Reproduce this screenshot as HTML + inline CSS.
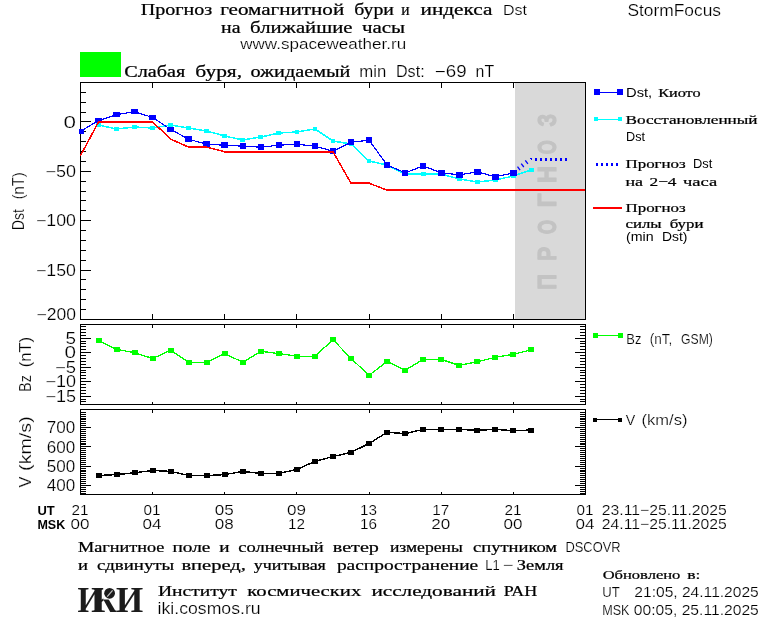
<!DOCTYPE html>
<html lang="ru"><head><meta charset="utf-8"><title>StormFocus</title>
<style>
html,body{margin:0;padding:0;background:#fff;}
body{width:760px;height:620px;overflow:hidden;}
svg{display:block;will-change:transform;}
.s{font-family:"Liberation Sans", sans-serif;font-size:15.6px;fill:#000;stroke:#fff;stroke-width:0.2px;}
.s2{font-family:"Liberation Sans", sans-serif;font-size:14.5px;fill:#000;stroke:#fff;stroke-width:0.2px;}
.sa{font-family:"Liberation Sans", sans-serif;font-size:16px;fill:#000;stroke:#fff;stroke-width:0.2px;}
.sb{font-family:"Liberation Sans", sans-serif;font-size:13px;font-weight:bold;fill:#000;}
.sl{font-family:"Liberation Sans", sans-serif;font-size:12.5px;fill:#000;}
.c{font-family:"Liberation Serif", serif;font-size:16px;fill:#000;stroke:#000;stroke-width:0.24px;}
.c2{font-family:"Liberation Serif", serif;font-size:14.7px;fill:#000;stroke:#000;stroke-width:0.24px;}
.cl{font-family:"Liberation Serif", serif;font-size:13.2px;fill:#000;stroke:#000;stroke-width:0.24px;}
.pg{font-family:"Liberation Sans", sans-serif;font-size:26.6px;font-weight:bold;fill:#c3c3c3;stroke:#c3c3c3;stroke-width:1.2px;stroke-linejoin:round;}
.iki{font-family:"Liberation Serif", serif;font-size:35px;font-weight:bold;fill:#1c1c1c;}
</style></head><body>
<svg width="760" height="620" viewBox="0 0 760 620">
<rect x="0" y="0" width="760" height="620" fill="#fff"/>
<text x="140.8" y="15.3" class="c" textLength="71.4" lengthAdjust="spacingAndGlyphs" >Прогноз</text>
<text x="220.2" y="15.3" class="c" textLength="124.0" lengthAdjust="spacingAndGlyphs" >геомагнитной</text>
<text x="354.2" y="15.3" class="c" textLength="39.7" lengthAdjust="spacingAndGlyphs" >бури</text>
<text x="401.2" y="15.3" class="c" textLength="8.3" lengthAdjust="spacingAndGlyphs" >и</text>
<text x="420.5" y="15.3" class="c" textLength="72.0" lengthAdjust="spacingAndGlyphs" >индекса</text>
<text x="503.0" y="15.3" class="s" textLength="24.0" lengthAdjust="spacingAndGlyphs"  style="font-size:14.7px">Dst</text>
<text x="221.1" y="32.8" class="c" textLength="19.4" lengthAdjust="spacingAndGlyphs" >на</text>
<text x="250.1" y="32.8" class="c" textLength="102.4" lengthAdjust="spacingAndGlyphs" >ближайшие</text>
<text x="362.0" y="32.8" class="c" textLength="43.1" lengthAdjust="spacingAndGlyphs" >часы</text>
<text x="240.2" y="49.3" class="s" textLength="166.0" lengthAdjust="spacingAndGlyphs"  style="font-size:14.8px">www.spaceweather.ru</text>
<text x="627.4" y="15.7" class="s" textLength="93.6" lengthAdjust="spacingAndGlyphs"  style="font-size:16px">StormFocus</text>
<rect x="80.00" y="52.00" width="41.00" height="25.00" fill="#00ff00"/>
<text x="124.2" y="76.5" class="c" textLength="61.0" lengthAdjust="spacingAndGlyphs" >Слабая</text>
<text x="195.3" y="76.5" class="c" textLength="46.8" lengthAdjust="spacingAndGlyphs" >буря,</text>
<text x="250.5" y="76.5" class="c" textLength="99.9" lengthAdjust="spacingAndGlyphs" >ожидаемый</text>
<text x="359.3" y="76.7" class="s" textLength="27.0" lengthAdjust="spacingAndGlyphs"  style="font-size:16.4px">min</text>
<text x="396.0" y="76.7" class="s" textLength="28.6" lengthAdjust="spacingAndGlyphs"  style="font-size:16.4px">Dst:</text>
<text x="434.8" y="76.7" class="s" textLength="31.8" lengthAdjust="spacingAndGlyphs"  style="font-size:16.4px">−69</text>
<text x="475.6" y="76.7" class="s" textLength="18.6" lengthAdjust="spacingAndGlyphs"  style="font-size:16.4px">nT</text>
<rect x="515.00" y="83.00" width="70.00" height="236.00" fill="#d9d9d9"/>
<text class="pg" transform="translate(556.4,289.86) rotate(-90)" textLength="15.73" lengthAdjust="spacingAndGlyphs">П</text>
<text class="pg" transform="translate(556.4,260.79) rotate(-90)" textLength="13.91" lengthAdjust="spacingAndGlyphs">Р</text>
<text class="pg" transform="translate(556.4,234.36) rotate(-90)" textLength="14.33" lengthAdjust="spacingAndGlyphs">О</text>
<text class="pg" transform="translate(556.4,207.34) rotate(-90)" textLength="13.92" lengthAdjust="spacingAndGlyphs">Г</text>
<text class="pg" transform="translate(556.4,182.97) rotate(-90)" textLength="16.95" lengthAdjust="spacingAndGlyphs">Н</text>
<text class="pg" transform="translate(556.4,154.14) rotate(-90)" textLength="13.99" lengthAdjust="spacingAndGlyphs">О</text>
<text class="pg" transform="translate(556.4,126.45) rotate(-90)" textLength="12.57" lengthAdjust="spacingAndGlyphs">З</text>
<g shape-rendering="crispEdges">
<rect x="80.5" y="82.5" width="505.0" height="237.0" fill="none" stroke="#000" stroke-width="1"/>
<line x1="152.64" y1="82.50" x2="152.64" y2="88.00" stroke="#000" stroke-width="1" />
<line x1="152.64" y1="319.50" x2="152.64" y2="314.00" stroke="#000" stroke-width="1" />
<line x1="224.79" y1="82.50" x2="224.79" y2="88.00" stroke="#000" stroke-width="1" />
<line x1="224.79" y1="319.50" x2="224.79" y2="314.00" stroke="#000" stroke-width="1" />
<line x1="296.93" y1="82.50" x2="296.93" y2="88.00" stroke="#000" stroke-width="1" />
<line x1="296.93" y1="319.50" x2="296.93" y2="314.00" stroke="#000" stroke-width="1" />
<line x1="369.07" y1="82.50" x2="369.07" y2="88.00" stroke="#000" stroke-width="1" />
<line x1="369.07" y1="319.50" x2="369.07" y2="314.00" stroke="#000" stroke-width="1" />
<line x1="441.21" y1="82.50" x2="441.21" y2="88.00" stroke="#000" stroke-width="1" />
<line x1="441.21" y1="319.50" x2="441.21" y2="314.00" stroke="#000" stroke-width="1" />
<line x1="513.36" y1="82.50" x2="513.36" y2="88.00" stroke="#000" stroke-width="1" />
<line x1="513.36" y1="319.50" x2="513.36" y2="314.00" stroke="#000" stroke-width="1" />
<line x1="80.50" y1="309.50" x2="86.00" y2="309.50" stroke="#000" stroke-width="1" />
<line x1="80.50" y1="299.50" x2="86.00" y2="299.50" stroke="#000" stroke-width="1" />
<line x1="80.50" y1="289.50" x2="86.00" y2="289.50" stroke="#000" stroke-width="1" />
<line x1="80.50" y1="279.50" x2="86.00" y2="279.50" stroke="#000" stroke-width="1" />
<line x1="80.50" y1="270.50" x2="91.00" y2="270.50" stroke="#000" stroke-width="1" />
<line x1="80.50" y1="260.50" x2="86.00" y2="260.50" stroke="#000" stroke-width="1" />
<line x1="80.50" y1="250.50" x2="86.00" y2="250.50" stroke="#000" stroke-width="1" />
<line x1="80.50" y1="240.50" x2="86.00" y2="240.50" stroke="#000" stroke-width="1" />
<line x1="80.50" y1="230.50" x2="86.00" y2="230.50" stroke="#000" stroke-width="1" />
<line x1="80.50" y1="220.50" x2="91.00" y2="220.50" stroke="#000" stroke-width="1" />
<line x1="80.50" y1="210.50" x2="86.00" y2="210.50" stroke="#000" stroke-width="1" />
<line x1="80.50" y1="200.50" x2="86.00" y2="200.50" stroke="#000" stroke-width="1" />
<line x1="80.50" y1="191.50" x2="86.00" y2="191.50" stroke="#000" stroke-width="1" />
<line x1="80.50" y1="181.50" x2="86.00" y2="181.50" stroke="#000" stroke-width="1" />
<line x1="80.50" y1="171.50" x2="91.00" y2="171.50" stroke="#000" stroke-width="1" />
<line x1="80.50" y1="161.50" x2="86.00" y2="161.50" stroke="#000" stroke-width="1" />
<line x1="80.50" y1="151.50" x2="86.00" y2="151.50" stroke="#000" stroke-width="1" />
<line x1="80.50" y1="141.50" x2="86.00" y2="141.50" stroke="#000" stroke-width="1" />
<line x1="80.50" y1="131.50" x2="86.00" y2="131.50" stroke="#000" stroke-width="1" />
<line x1="80.50" y1="121.50" x2="91.00" y2="121.50" stroke="#000" stroke-width="1" />
<line x1="80.50" y1="112.50" x2="86.00" y2="112.50" stroke="#000" stroke-width="1" />
<line x1="80.50" y1="102.50" x2="86.00" y2="102.50" stroke="#000" stroke-width="1" />
<line x1="80.50" y1="92.50" x2="86.00" y2="92.50" stroke="#000" stroke-width="1" />
<clipPath id="cp1"><rect x="79" y="82" width="506" height="238"/></clipPath>
<g clip-path="url(#cp1)">
<polyline points="98.54,125.00 116.57,129.00 134.61,127.00 152.64,128.00 170.68,125.00 188.71,128.00 206.75,131.00 224.79,136.00 242.82,140.00 260.86,137.00 278.89,133.00 296.93,132.00 314.96,129.00 333.00,141.00 351.04,144.00 369.07,161.00 387.11,165.00 405.14,174.00 423.18,174.00 441.21,174.00 459.25,179.00 477.29,182.00 495.32,180.00 513.36,176.00 531.39,170.00" fill="none" stroke="#00ffff" stroke-width="1.5" stroke-linejoin="miter" />
<rect x="96.14" y="123.10" width="4.80" height="3.80" fill="#00ffff"/>
<rect x="114.17" y="127.10" width="4.80" height="3.80" fill="#00ffff"/>
<rect x="132.21" y="125.10" width="4.80" height="3.80" fill="#00ffff"/>
<rect x="150.24" y="126.10" width="4.80" height="3.80" fill="#00ffff"/>
<rect x="168.28" y="123.10" width="4.80" height="3.80" fill="#00ffff"/>
<rect x="186.31" y="126.10" width="4.80" height="3.80" fill="#00ffff"/>
<rect x="204.35" y="129.10" width="4.80" height="3.80" fill="#00ffff"/>
<rect x="222.39" y="134.10" width="4.80" height="3.80" fill="#00ffff"/>
<rect x="240.42" y="138.10" width="4.80" height="3.80" fill="#00ffff"/>
<rect x="258.46" y="135.10" width="4.80" height="3.80" fill="#00ffff"/>
<rect x="276.49" y="131.10" width="4.80" height="3.80" fill="#00ffff"/>
<rect x="294.53" y="130.10" width="4.80" height="3.80" fill="#00ffff"/>
<rect x="312.56" y="127.10" width="4.80" height="3.80" fill="#00ffff"/>
<rect x="330.60" y="139.10" width="4.80" height="3.80" fill="#00ffff"/>
<rect x="348.64" y="142.10" width="4.80" height="3.80" fill="#00ffff"/>
<rect x="366.67" y="159.10" width="4.80" height="3.80" fill="#00ffff"/>
<rect x="384.71" y="163.10" width="4.80" height="3.80" fill="#00ffff"/>
<rect x="402.74" y="172.10" width="4.80" height="3.80" fill="#00ffff"/>
<rect x="420.78" y="172.10" width="4.80" height="3.80" fill="#00ffff"/>
<rect x="438.81" y="172.10" width="4.80" height="3.80" fill="#00ffff"/>
<rect x="456.85" y="177.10" width="4.80" height="3.80" fill="#00ffff"/>
<rect x="474.89" y="180.10" width="4.80" height="3.80" fill="#00ffff"/>
<rect x="492.92" y="178.10" width="4.80" height="3.80" fill="#00ffff"/>
<rect x="510.96" y="174.10" width="4.80" height="3.80" fill="#00ffff"/>
<rect x="528.99" y="168.10" width="4.80" height="3.80" fill="#00ffff"/>
<polyline points="80.50,131.38 98.54,120.51 116.57,114.59 134.61,111.62 152.64,117.55 170.68,129.40 188.71,139.28 206.75,144.21 224.79,145.20 242.82,146.19 260.86,147.17 278.89,145.20 296.93,144.21 314.96,146.19 333.00,151.12 351.04,142.24 369.07,140.26 387.11,164.95 405.14,172.85 423.18,165.94 441.21,172.85 459.25,174.82 477.29,171.86 495.32,176.80 513.36,172.85" fill="none" stroke="#0000ff" stroke-width="1.2" stroke-linejoin="miter" />
<rect x="535.00" y="158.00" width="2.00" height="3.00" fill="#0000ff"/>
<rect x="540.00" y="158.00" width="2.00" height="3.00" fill="#0000ff"/>
<rect x="545.00" y="158.00" width="2.00" height="3.00" fill="#0000ff"/>
<rect x="550.00" y="158.00" width="2.00" height="3.00" fill="#0000ff"/>
<rect x="555.00" y="158.00" width="2.00" height="3.00" fill="#0000ff"/>
<rect x="560.00" y="158.00" width="2.00" height="3.00" fill="#0000ff"/>
<rect x="565.00" y="158.00" width="2.00" height="3.00" fill="#0000ff"/>
<polygon points="529.5,158 532,158 532,161" fill="#0000ff"/>
<line x1="517.50" y1="166.70" x2="520.10" y2="170.10" stroke="#0000ff" stroke-width="1.3" shape-rendering="auto"/>
<line x1="521.20" y1="163.60" x2="523.80" y2="167.00" stroke="#0000ff" stroke-width="1.3" shape-rendering="auto"/>
<line x1="525.30" y1="160.40" x2="527.90" y2="163.80" stroke="#0000ff" stroke-width="1.3" shape-rendering="auto"/>
<rect x="77.20" y="128.57" width="6.60" height="5.60" fill="#0000ff"/>
<rect x="95.24" y="117.71" width="6.60" height="5.60" fill="#0000ff"/>
<rect x="113.27" y="111.79" width="6.60" height="5.60" fill="#0000ff"/>
<rect x="131.31" y="108.83" width="6.60" height="5.60" fill="#0000ff"/>
<rect x="149.34" y="114.75" width="6.60" height="5.60" fill="#0000ff"/>
<rect x="167.38" y="126.60" width="6.60" height="5.60" fill="#0000ff"/>
<rect x="185.41" y="136.47" width="6.60" height="5.60" fill="#0000ff"/>
<rect x="203.45" y="141.41" width="6.60" height="5.60" fill="#0000ff"/>
<rect x="221.49" y="142.40" width="6.60" height="5.60" fill="#0000ff"/>
<rect x="239.52" y="143.39" width="6.60" height="5.60" fill="#0000ff"/>
<rect x="257.56" y="144.37" width="6.60" height="5.60" fill="#0000ff"/>
<rect x="275.59" y="142.40" width="6.60" height="5.60" fill="#0000ff"/>
<rect x="293.63" y="141.41" width="6.60" height="5.60" fill="#0000ff"/>
<rect x="311.66" y="143.39" width="6.60" height="5.60" fill="#0000ff"/>
<rect x="329.70" y="148.32" width="6.60" height="5.60" fill="#0000ff"/>
<rect x="347.74" y="139.44" width="6.60" height="5.60" fill="#0000ff"/>
<rect x="365.77" y="137.46" width="6.60" height="5.60" fill="#0000ff"/>
<rect x="383.81" y="162.15" width="6.60" height="5.60" fill="#0000ff"/>
<rect x="401.84" y="170.05" width="6.60" height="5.60" fill="#0000ff"/>
<rect x="419.88" y="163.14" width="6.60" height="5.60" fill="#0000ff"/>
<rect x="437.91" y="170.05" width="6.60" height="5.60" fill="#0000ff"/>
<rect x="455.95" y="172.02" width="6.60" height="5.60" fill="#0000ff"/>
<rect x="473.99" y="169.06" width="6.60" height="5.60" fill="#0000ff"/>
<rect x="492.02" y="174.00" width="6.60" height="5.60" fill="#0000ff"/>
<rect x="510.06" y="170.05" width="6.60" height="5.60" fill="#0000ff"/>
<line x1="80.50" y1="155.57" x2="98.54" y2="122.00" stroke="#ff0000" stroke-width="1.5" />
<line x1="98.04" y1="122.00" x2="153.14" y2="122.00" stroke="#ff0000" stroke-width="2" />
<line x1="152.64" y1="122.00" x2="170.68" y2="139.08" stroke="#ff0000" stroke-width="1.5" />
<line x1="170.68" y1="139.08" x2="188.71" y2="147.18" stroke="#ff0000" stroke-width="1.5" />
<line x1="188.21" y1="147.18" x2="207.25" y2="147.18" stroke="#ff0000" stroke-width="2" />
<line x1="206.75" y1="147.18" x2="224.79" y2="151.62" stroke="#ff0000" stroke-width="1.5" />
<line x1="224.29" y1="151.62" x2="333.50" y2="151.62" stroke="#ff0000" stroke-width="2" />
<line x1="333.00" y1="151.62" x2="351.04" y2="183.22" stroke="#ff0000" stroke-width="1.5" />
<line x1="350.54" y1="183.22" x2="369.57" y2="183.22" stroke="#ff0000" stroke-width="2" />
<line x1="369.07" y1="183.22" x2="387.11" y2="190.14" stroke="#ff0000" stroke-width="1.5" />
<line x1="386.61" y1="190.14" x2="585.50" y2="190.14" stroke="#ff0000" stroke-width="2" />
</g>
<polyline points="98.54,340.60 116.57,349.30 134.61,352.70 152.64,358.50 170.68,350.20 188.71,362.30 206.75,362.30 224.79,353.60 242.82,362.30 260.86,351.30 278.89,353.60 296.93,356.20 314.96,356.20 333.00,339.70 351.04,358.50 369.07,375.30 387.11,361.40 405.14,370.30 423.18,359.40 441.21,359.40 459.25,365.40 477.29,361.80 495.32,357.40 513.36,354.20 531.39,349.80" fill="none" stroke="#00ff00" stroke-width="1.3" stroke-linejoin="miter" />
<rect x="96.00" y="338.00" width="5.60" height="5.00" fill="#00ff00"/>
<rect x="114.00" y="347.00" width="5.60" height="5.00" fill="#00ff00"/>
<rect x="132.00" y="350.00" width="5.60" height="5.00" fill="#00ff00"/>
<rect x="150.00" y="356.00" width="5.60" height="5.00" fill="#00ff00"/>
<rect x="168.00" y="348.00" width="5.60" height="5.00" fill="#00ff00"/>
<rect x="186.00" y="360.00" width="5.60" height="5.00" fill="#00ff00"/>
<rect x="204.00" y="360.00" width="5.60" height="5.00" fill="#00ff00"/>
<rect x="222.00" y="351.00" width="5.60" height="5.00" fill="#00ff00"/>
<rect x="240.00" y="360.00" width="5.60" height="5.00" fill="#00ff00"/>
<rect x="258.00" y="349.00" width="5.60" height="5.00" fill="#00ff00"/>
<rect x="276.00" y="351.00" width="5.60" height="5.00" fill="#00ff00"/>
<rect x="294.00" y="354.00" width="5.60" height="5.00" fill="#00ff00"/>
<rect x="312.00" y="354.00" width="5.60" height="5.00" fill="#00ff00"/>
<rect x="330.00" y="337.00" width="5.60" height="5.00" fill="#00ff00"/>
<rect x="348.00" y="356.00" width="5.60" height="5.00" fill="#00ff00"/>
<rect x="366.00" y="373.00" width="5.60" height="5.00" fill="#00ff00"/>
<rect x="384.00" y="359.00" width="5.60" height="5.00" fill="#00ff00"/>
<rect x="402.00" y="368.00" width="5.60" height="5.00" fill="#00ff00"/>
<rect x="420.00" y="357.00" width="5.60" height="5.00" fill="#00ff00"/>
<rect x="438.00" y="357.00" width="5.60" height="5.00" fill="#00ff00"/>
<rect x="456.00" y="363.00" width="5.60" height="5.00" fill="#00ff00"/>
<rect x="474.00" y="359.00" width="5.60" height="5.00" fill="#00ff00"/>
<rect x="492.00" y="355.00" width="5.60" height="5.00" fill="#00ff00"/>
<rect x="510.00" y="352.00" width="5.60" height="5.00" fill="#00ff00"/>
<rect x="528.00" y="347.00" width="5.60" height="5.00" fill="#00ff00"/>
<rect x="80.5" y="324.5" width="505.0" height="80.0" fill="none" stroke="#000" stroke-width="1"/>
<line x1="152.64" y1="324.50" x2="152.64" y2="327.50" stroke="#000" stroke-width="1" />
<line x1="152.64" y1="404.50" x2="152.64" y2="401.50" stroke="#000" stroke-width="1" />
<line x1="224.79" y1="324.50" x2="224.79" y2="327.50" stroke="#000" stroke-width="1" />
<line x1="224.79" y1="404.50" x2="224.79" y2="401.50" stroke="#000" stroke-width="1" />
<line x1="296.93" y1="324.50" x2="296.93" y2="327.50" stroke="#000" stroke-width="1" />
<line x1="296.93" y1="404.50" x2="296.93" y2="401.50" stroke="#000" stroke-width="1" />
<line x1="369.07" y1="324.50" x2="369.07" y2="327.50" stroke="#000" stroke-width="1" />
<line x1="369.07" y1="404.50" x2="369.07" y2="401.50" stroke="#000" stroke-width="1" />
<line x1="441.21" y1="324.50" x2="441.21" y2="327.50" stroke="#000" stroke-width="1" />
<line x1="441.21" y1="404.50" x2="441.21" y2="401.50" stroke="#000" stroke-width="1" />
<line x1="513.36" y1="324.50" x2="513.36" y2="327.50" stroke="#000" stroke-width="1" />
<line x1="513.36" y1="404.50" x2="513.36" y2="401.50" stroke="#000" stroke-width="1" />
<line x1="80.50" y1="401.50" x2="86.00" y2="401.50" stroke="#000" stroke-width="1" />
<line x1="585.50" y1="401.50" x2="580.00" y2="401.50" stroke="#000" stroke-width="1" />
<line x1="80.50" y1="399.50" x2="86.00" y2="399.50" stroke="#000" stroke-width="1" />
<line x1="585.50" y1="399.50" x2="580.00" y2="399.50" stroke="#000" stroke-width="1" />
<line x1="80.50" y1="396.50" x2="91.00" y2="396.50" stroke="#000" stroke-width="1" />
<line x1="585.50" y1="396.50" x2="575.00" y2="396.50" stroke="#000" stroke-width="1" />
<line x1="80.50" y1="393.50" x2="86.00" y2="393.50" stroke="#000" stroke-width="1" />
<line x1="585.50" y1="393.50" x2="580.00" y2="393.50" stroke="#000" stroke-width="1" />
<line x1="80.50" y1="390.50" x2="86.00" y2="390.50" stroke="#000" stroke-width="1" />
<line x1="585.50" y1="390.50" x2="580.00" y2="390.50" stroke="#000" stroke-width="1" />
<line x1="80.50" y1="387.50" x2="86.00" y2="387.50" stroke="#000" stroke-width="1" />
<line x1="585.50" y1="387.50" x2="580.00" y2="387.50" stroke="#000" stroke-width="1" />
<line x1="80.50" y1="384.50" x2="86.00" y2="384.50" stroke="#000" stroke-width="1" />
<line x1="585.50" y1="384.50" x2="580.00" y2="384.50" stroke="#000" stroke-width="1" />
<line x1="80.50" y1="381.50" x2="91.00" y2="381.50" stroke="#000" stroke-width="1" />
<line x1="585.50" y1="381.50" x2="575.00" y2="381.50" stroke="#000" stroke-width="1" />
<line x1="80.50" y1="378.50" x2="86.00" y2="378.50" stroke="#000" stroke-width="1" />
<line x1="585.50" y1="378.50" x2="580.00" y2="378.50" stroke="#000" stroke-width="1" />
<line x1="80.50" y1="375.50" x2="86.00" y2="375.50" stroke="#000" stroke-width="1" />
<line x1="585.50" y1="375.50" x2="580.00" y2="375.50" stroke="#000" stroke-width="1" />
<line x1="80.50" y1="372.50" x2="86.00" y2="372.50" stroke="#000" stroke-width="1" />
<line x1="585.50" y1="372.50" x2="580.00" y2="372.50" stroke="#000" stroke-width="1" />
<line x1="80.50" y1="370.50" x2="86.00" y2="370.50" stroke="#000" stroke-width="1" />
<line x1="585.50" y1="370.50" x2="580.00" y2="370.50" stroke="#000" stroke-width="1" />
<line x1="80.50" y1="367.50" x2="91.00" y2="367.50" stroke="#000" stroke-width="1" />
<line x1="585.50" y1="367.50" x2="575.00" y2="367.50" stroke="#000" stroke-width="1" />
<line x1="80.50" y1="364.50" x2="86.00" y2="364.50" stroke="#000" stroke-width="1" />
<line x1="585.50" y1="364.50" x2="580.00" y2="364.50" stroke="#000" stroke-width="1" />
<line x1="80.50" y1="361.50" x2="86.00" y2="361.50" stroke="#000" stroke-width="1" />
<line x1="585.50" y1="361.50" x2="580.00" y2="361.50" stroke="#000" stroke-width="1" />
<line x1="80.50" y1="358.50" x2="86.00" y2="358.50" stroke="#000" stroke-width="1" />
<line x1="585.50" y1="358.50" x2="580.00" y2="358.50" stroke="#000" stroke-width="1" />
<line x1="80.50" y1="355.50" x2="86.00" y2="355.50" stroke="#000" stroke-width="1" />
<line x1="585.50" y1="355.50" x2="580.00" y2="355.50" stroke="#000" stroke-width="1" />
<line x1="80.50" y1="352.50" x2="91.00" y2="352.50" stroke="#000" stroke-width="1" />
<line x1="585.50" y1="352.50" x2="575.00" y2="352.50" stroke="#000" stroke-width="1" />
<line x1="80.50" y1="349.50" x2="86.00" y2="349.50" stroke="#000" stroke-width="1" />
<line x1="585.50" y1="349.50" x2="580.00" y2="349.50" stroke="#000" stroke-width="1" />
<line x1="80.50" y1="346.50" x2="86.00" y2="346.50" stroke="#000" stroke-width="1" />
<line x1="585.50" y1="346.50" x2="580.00" y2="346.50" stroke="#000" stroke-width="1" />
<line x1="80.50" y1="343.50" x2="86.00" y2="343.50" stroke="#000" stroke-width="1" />
<line x1="585.50" y1="343.50" x2="580.00" y2="343.50" stroke="#000" stroke-width="1" />
<line x1="80.50" y1="341.50" x2="86.00" y2="341.50" stroke="#000" stroke-width="1" />
<line x1="585.50" y1="341.50" x2="580.00" y2="341.50" stroke="#000" stroke-width="1" />
<line x1="80.50" y1="338.50" x2="91.00" y2="338.50" stroke="#000" stroke-width="1" />
<line x1="585.50" y1="338.50" x2="575.00" y2="338.50" stroke="#000" stroke-width="1" />
<line x1="80.50" y1="335.50" x2="86.00" y2="335.50" stroke="#000" stroke-width="1" />
<line x1="585.50" y1="335.50" x2="580.00" y2="335.50" stroke="#000" stroke-width="1" />
<line x1="80.50" y1="332.50" x2="86.00" y2="332.50" stroke="#000" stroke-width="1" />
<line x1="585.50" y1="332.50" x2="580.00" y2="332.50" stroke="#000" stroke-width="1" />
<line x1="80.50" y1="329.50" x2="86.00" y2="329.50" stroke="#000" stroke-width="1" />
<line x1="585.50" y1="329.50" x2="580.00" y2="329.50" stroke="#000" stroke-width="1" />
<line x1="80.50" y1="326.50" x2="86.00" y2="326.50" stroke="#000" stroke-width="1" />
<line x1="585.50" y1="326.50" x2="580.00" y2="326.50" stroke="#000" stroke-width="1" />
<polyline points="98.54,475.50 116.57,474.60 134.61,472.80 152.64,470.50 170.68,471.40 188.71,475.50 206.75,475.50 224.79,474.60 242.82,471.40 260.86,473.50 278.89,473.50 296.93,469.40 314.96,461.40 333.00,456.50 351.04,452.40 369.07,443.50 387.11,432.30 405.14,433.60 423.18,429.40 441.21,429.80 459.25,429.40 477.29,430.30 495.32,429.40 513.36,430.70 531.39,430.00" fill="none" stroke="#000" stroke-width="1.4" stroke-linejoin="miter" />
<rect x="96.00" y="473.00" width="5.60" height="5.00" fill="#000"/>
<rect x="114.00" y="472.00" width="5.60" height="5.00" fill="#000"/>
<rect x="132.00" y="470.00" width="5.60" height="5.00" fill="#000"/>
<rect x="150.00" y="468.00" width="5.60" height="5.00" fill="#000"/>
<rect x="168.00" y="469.00" width="5.60" height="5.00" fill="#000"/>
<rect x="186.00" y="473.00" width="5.60" height="5.00" fill="#000"/>
<rect x="204.00" y="473.00" width="5.60" height="5.00" fill="#000"/>
<rect x="222.00" y="472.00" width="5.60" height="5.00" fill="#000"/>
<rect x="240.00" y="469.00" width="5.60" height="5.00" fill="#000"/>
<rect x="258.00" y="471.00" width="5.60" height="5.00" fill="#000"/>
<rect x="276.00" y="471.00" width="5.60" height="5.00" fill="#000"/>
<rect x="294.00" y="467.00" width="5.60" height="5.00" fill="#000"/>
<rect x="312.00" y="459.00" width="5.60" height="5.00" fill="#000"/>
<rect x="330.00" y="454.00" width="5.60" height="5.00" fill="#000"/>
<rect x="348.00" y="450.00" width="5.60" height="5.00" fill="#000"/>
<rect x="366.00" y="441.00" width="5.60" height="5.00" fill="#000"/>
<rect x="384.00" y="430.00" width="5.60" height="5.00" fill="#000"/>
<rect x="402.00" y="431.00" width="5.60" height="5.00" fill="#000"/>
<rect x="420.00" y="427.00" width="5.60" height="5.00" fill="#000"/>
<rect x="438.00" y="427.00" width="5.60" height="5.00" fill="#000"/>
<rect x="456.00" y="427.00" width="5.60" height="5.00" fill="#000"/>
<rect x="474.00" y="428.00" width="5.60" height="5.00" fill="#000"/>
<rect x="492.00" y="427.00" width="5.60" height="5.00" fill="#000"/>
<rect x="510.00" y="428.00" width="5.60" height="5.00" fill="#000"/>
<rect x="528.00" y="428.00" width="5.60" height="5.00" fill="#000"/>
<rect x="80.5" y="409.5" width="505.0" height="85.0" fill="none" stroke="#000" stroke-width="1"/>
<line x1="152.64" y1="409.50" x2="152.64" y2="412.50" stroke="#000" stroke-width="1" />
<line x1="152.64" y1="494.50" x2="152.64" y2="491.50" stroke="#000" stroke-width="1" />
<line x1="224.79" y1="409.50" x2="224.79" y2="412.50" stroke="#000" stroke-width="1" />
<line x1="224.79" y1="494.50" x2="224.79" y2="491.50" stroke="#000" stroke-width="1" />
<line x1="296.93" y1="409.50" x2="296.93" y2="412.50" stroke="#000" stroke-width="1" />
<line x1="296.93" y1="494.50" x2="296.93" y2="491.50" stroke="#000" stroke-width="1" />
<line x1="369.07" y1="409.50" x2="369.07" y2="412.50" stroke="#000" stroke-width="1" />
<line x1="369.07" y1="494.50" x2="369.07" y2="491.50" stroke="#000" stroke-width="1" />
<line x1="441.21" y1="409.50" x2="441.21" y2="412.50" stroke="#000" stroke-width="1" />
<line x1="441.21" y1="494.50" x2="441.21" y2="491.50" stroke="#000" stroke-width="1" />
<line x1="513.36" y1="409.50" x2="513.36" y2="412.50" stroke="#000" stroke-width="1" />
<line x1="513.36" y1="494.50" x2="513.36" y2="491.50" stroke="#000" stroke-width="1" />
<line x1="80.50" y1="493.50" x2="86.00" y2="493.50" stroke="#000" stroke-width="1" />
<line x1="585.50" y1="493.50" x2="580.00" y2="493.50" stroke="#000" stroke-width="1" />
<line x1="80.50" y1="491.50" x2="86.00" y2="491.50" stroke="#000" stroke-width="1" />
<line x1="585.50" y1="491.50" x2="580.00" y2="491.50" stroke="#000" stroke-width="1" />
<line x1="80.50" y1="489.50" x2="86.00" y2="489.50" stroke="#000" stroke-width="1" />
<line x1="585.50" y1="489.50" x2="580.00" y2="489.50" stroke="#000" stroke-width="1" />
<line x1="80.50" y1="487.50" x2="86.00" y2="487.50" stroke="#000" stroke-width="1" />
<line x1="585.50" y1="487.50" x2="580.00" y2="487.50" stroke="#000" stroke-width="1" />
<line x1="80.50" y1="485.50" x2="91.00" y2="485.50" stroke="#000" stroke-width="1" />
<line x1="585.50" y1="485.50" x2="575.00" y2="485.50" stroke="#000" stroke-width="1" />
<line x1="80.50" y1="483.50" x2="86.00" y2="483.50" stroke="#000" stroke-width="1" />
<line x1="585.50" y1="483.50" x2="580.00" y2="483.50" stroke="#000" stroke-width="1" />
<line x1="80.50" y1="481.50" x2="86.00" y2="481.50" stroke="#000" stroke-width="1" />
<line x1="585.50" y1="481.50" x2="580.00" y2="481.50" stroke="#000" stroke-width="1" />
<line x1="80.50" y1="479.50" x2="86.00" y2="479.50" stroke="#000" stroke-width="1" />
<line x1="585.50" y1="479.50" x2="580.00" y2="479.50" stroke="#000" stroke-width="1" />
<line x1="80.50" y1="477.50" x2="86.00" y2="477.50" stroke="#000" stroke-width="1" />
<line x1="585.50" y1="477.50" x2="580.00" y2="477.50" stroke="#000" stroke-width="1" />
<line x1="80.50" y1="475.50" x2="86.00" y2="475.50" stroke="#000" stroke-width="1" />
<line x1="585.50" y1="475.50" x2="580.00" y2="475.50" stroke="#000" stroke-width="1" />
<line x1="80.50" y1="473.50" x2="86.00" y2="473.50" stroke="#000" stroke-width="1" />
<line x1="585.50" y1="473.50" x2="580.00" y2="473.50" stroke="#000" stroke-width="1" />
<line x1="80.50" y1="471.50" x2="86.00" y2="471.50" stroke="#000" stroke-width="1" />
<line x1="585.50" y1="471.50" x2="580.00" y2="471.50" stroke="#000" stroke-width="1" />
<line x1="80.50" y1="470.50" x2="86.00" y2="470.50" stroke="#000" stroke-width="1" />
<line x1="585.50" y1="470.50" x2="580.00" y2="470.50" stroke="#000" stroke-width="1" />
<line x1="80.50" y1="468.50" x2="86.00" y2="468.50" stroke="#000" stroke-width="1" />
<line x1="585.50" y1="468.50" x2="580.00" y2="468.50" stroke="#000" stroke-width="1" />
<line x1="80.50" y1="466.50" x2="91.00" y2="466.50" stroke="#000" stroke-width="1" />
<line x1="585.50" y1="466.50" x2="575.00" y2="466.50" stroke="#000" stroke-width="1" />
<line x1="80.50" y1="464.50" x2="86.00" y2="464.50" stroke="#000" stroke-width="1" />
<line x1="585.50" y1="464.50" x2="580.00" y2="464.50" stroke="#000" stroke-width="1" />
<line x1="80.50" y1="462.50" x2="86.00" y2="462.50" stroke="#000" stroke-width="1" />
<line x1="585.50" y1="462.50" x2="580.00" y2="462.50" stroke="#000" stroke-width="1" />
<line x1="80.50" y1="460.50" x2="86.00" y2="460.50" stroke="#000" stroke-width="1" />
<line x1="585.50" y1="460.50" x2="580.00" y2="460.50" stroke="#000" stroke-width="1" />
<line x1="80.50" y1="458.50" x2="86.00" y2="458.50" stroke="#000" stroke-width="1" />
<line x1="585.50" y1="458.50" x2="580.00" y2="458.50" stroke="#000" stroke-width="1" />
<line x1="80.50" y1="456.50" x2="86.00" y2="456.50" stroke="#000" stroke-width="1" />
<line x1="585.50" y1="456.50" x2="580.00" y2="456.50" stroke="#000" stroke-width="1" />
<line x1="80.50" y1="454.50" x2="86.00" y2="454.50" stroke="#000" stroke-width="1" />
<line x1="585.50" y1="454.50" x2="580.00" y2="454.50" stroke="#000" stroke-width="1" />
<line x1="80.50" y1="452.50" x2="86.00" y2="452.50" stroke="#000" stroke-width="1" />
<line x1="585.50" y1="452.50" x2="580.00" y2="452.50" stroke="#000" stroke-width="1" />
<line x1="80.50" y1="450.50" x2="86.00" y2="450.50" stroke="#000" stroke-width="1" />
<line x1="585.50" y1="450.50" x2="580.00" y2="450.50" stroke="#000" stroke-width="1" />
<line x1="80.50" y1="448.50" x2="86.00" y2="448.50" stroke="#000" stroke-width="1" />
<line x1="585.50" y1="448.50" x2="580.00" y2="448.50" stroke="#000" stroke-width="1" />
<line x1="80.50" y1="446.50" x2="91.00" y2="446.50" stroke="#000" stroke-width="1" />
<line x1="585.50" y1="446.50" x2="575.00" y2="446.50" stroke="#000" stroke-width="1" />
<line x1="80.50" y1="444.50" x2="86.00" y2="444.50" stroke="#000" stroke-width="1" />
<line x1="585.50" y1="444.50" x2="580.00" y2="444.50" stroke="#000" stroke-width="1" />
<line x1="80.50" y1="443.50" x2="86.00" y2="443.50" stroke="#000" stroke-width="1" />
<line x1="585.50" y1="443.50" x2="580.00" y2="443.50" stroke="#000" stroke-width="1" />
<line x1="80.50" y1="441.50" x2="86.00" y2="441.50" stroke="#000" stroke-width="1" />
<line x1="585.50" y1="441.50" x2="580.00" y2="441.50" stroke="#000" stroke-width="1" />
<line x1="80.50" y1="439.50" x2="86.00" y2="439.50" stroke="#000" stroke-width="1" />
<line x1="585.50" y1="439.50" x2="580.00" y2="439.50" stroke="#000" stroke-width="1" />
<line x1="80.50" y1="437.50" x2="86.00" y2="437.50" stroke="#000" stroke-width="1" />
<line x1="585.50" y1="437.50" x2="580.00" y2="437.50" stroke="#000" stroke-width="1" />
<line x1="80.50" y1="435.50" x2="86.00" y2="435.50" stroke="#000" stroke-width="1" />
<line x1="585.50" y1="435.50" x2="580.00" y2="435.50" stroke="#000" stroke-width="1" />
<line x1="80.50" y1="433.50" x2="86.00" y2="433.50" stroke="#000" stroke-width="1" />
<line x1="585.50" y1="433.50" x2="580.00" y2="433.50" stroke="#000" stroke-width="1" />
<line x1="80.50" y1="431.50" x2="86.00" y2="431.50" stroke="#000" stroke-width="1" />
<line x1="585.50" y1="431.50" x2="580.00" y2="431.50" stroke="#000" stroke-width="1" />
<line x1="80.50" y1="429.50" x2="86.00" y2="429.50" stroke="#000" stroke-width="1" />
<line x1="585.50" y1="429.50" x2="580.00" y2="429.50" stroke="#000" stroke-width="1" />
<line x1="80.50" y1="427.50" x2="91.00" y2="427.50" stroke="#000" stroke-width="1" />
<line x1="585.50" y1="427.50" x2="575.00" y2="427.50" stroke="#000" stroke-width="1" />
<line x1="80.50" y1="425.50" x2="86.00" y2="425.50" stroke="#000" stroke-width="1" />
<line x1="585.50" y1="425.50" x2="580.00" y2="425.50" stroke="#000" stroke-width="1" />
<line x1="80.50" y1="423.50" x2="86.00" y2="423.50" stroke="#000" stroke-width="1" />
<line x1="585.50" y1="423.50" x2="580.00" y2="423.50" stroke="#000" stroke-width="1" />
<line x1="80.50" y1="421.50" x2="86.00" y2="421.50" stroke="#000" stroke-width="1" />
<line x1="585.50" y1="421.50" x2="580.00" y2="421.50" stroke="#000" stroke-width="1" />
<line x1="80.50" y1="419.50" x2="86.00" y2="419.50" stroke="#000" stroke-width="1" />
<line x1="585.50" y1="419.50" x2="580.00" y2="419.50" stroke="#000" stroke-width="1" />
<line x1="80.50" y1="418.50" x2="86.00" y2="418.50" stroke="#000" stroke-width="1" />
<line x1="585.50" y1="418.50" x2="580.00" y2="418.50" stroke="#000" stroke-width="1" />
<line x1="80.50" y1="416.50" x2="86.00" y2="416.50" stroke="#000" stroke-width="1" />
<line x1="585.50" y1="416.50" x2="580.00" y2="416.50" stroke="#000" stroke-width="1" />
<line x1="80.50" y1="414.50" x2="86.00" y2="414.50" stroke="#000" stroke-width="1" />
<line x1="585.50" y1="414.50" x2="580.00" y2="414.50" stroke="#000" stroke-width="1" />
<line x1="80.50" y1="412.50" x2="86.00" y2="412.50" stroke="#000" stroke-width="1" />
<line x1="585.50" y1="412.50" x2="580.00" y2="412.50" stroke="#000" stroke-width="1" />
<line x1="594.00" y1="92.50" x2="623.00" y2="92.50" stroke="#0000ff" stroke-width="1" />
<rect x="594.00" y="89.00" width="6.00" height="6.00" fill="#0000ff"/>
<rect x="617.00" y="89.00" width="6.00" height="6.00" fill="#0000ff"/>
<line x1="594.00" y1="119.50" x2="621.00" y2="119.50" stroke="#00ffff" stroke-width="1" />
<rect x="594.00" y="117.00" width="4.00" height="4.00" fill="#00ffff"/>
<rect x="618.00" y="117.00" width="4.00" height="4.00" fill="#00ffff"/>
<line x1="595.50" y1="164.50" x2="620.00" y2="164.50" stroke="#0000ff" stroke-width="3" stroke-dasharray="2 3.1"/>
<line x1="593.00" y1="207.50" x2="622.00" y2="207.50" stroke="#ff0000" stroke-width="2" />
<line x1="593.00" y1="335.50" x2="622.00" y2="335.50" stroke="#00ff00" stroke-width="1" />
<rect x="593.00" y="333.00" width="5.00" height="5.00" fill="#00ff00"/>
<rect x="618.00" y="333.00" width="5.00" height="5.00" fill="#00ff00"/>
<line x1="593.00" y1="419.50" x2="622.00" y2="419.50" stroke="#000" stroke-width="1" />
<rect x="593.00" y="418.00" width="4.00" height="4.00" fill="#000"/>
<rect x="618.00" y="418.00" width="4.00" height="4.00" fill="#000"/>
</g>
<text x="76.0" y="127.7" class="s" text-anchor="end" textLength="12.5" lengthAdjust="spacingAndGlyphs" >0</text>
<text x="76.0" y="177.1" class="s" text-anchor="end" textLength="30.5" lengthAdjust="spacingAndGlyphs" >−50</text>
<text x="76.0" y="226.4" class="s" text-anchor="end" textLength="40.0" lengthAdjust="spacingAndGlyphs" >−100</text>
<text x="76.0" y="275.8" class="s" text-anchor="end" textLength="40.0" lengthAdjust="spacingAndGlyphs" >−150</text>
<text x="76.0" y="319.8" class="s" text-anchor="end" textLength="39.5" lengthAdjust="spacingAndGlyphs" >−200</text>
<text x="76.0" y="343.6" class="s" text-anchor="end" textLength="10.5" lengthAdjust="spacingAndGlyphs" >5</text>
<text x="76.0" y="358.1" class="s" text-anchor="end" textLength="11.5" lengthAdjust="spacingAndGlyphs" >0</text>
<text x="76.0" y="372.6" class="s" text-anchor="end" textLength="21.0" lengthAdjust="spacingAndGlyphs" >−5</text>
<text x="76.0" y="387.1" class="s" text-anchor="end" textLength="30.5" lengthAdjust="spacingAndGlyphs" >−10</text>
<text x="76.0" y="401.6" class="s" text-anchor="end" textLength="30.5" lengthAdjust="spacingAndGlyphs" >−15</text>
<text x="75.2" y="433.4" class="s" text-anchor="end" textLength="28.5" lengthAdjust="spacingAndGlyphs" >700</text>
<text x="75.2" y="452.7" class="s" text-anchor="end" textLength="28.5" lengthAdjust="spacingAndGlyphs" >600</text>
<text x="75.2" y="471.9" class="s" text-anchor="end" textLength="28.5" lengthAdjust="spacingAndGlyphs" >500</text>
<text x="75.2" y="491.2" class="s" text-anchor="end" textLength="28.5" lengthAdjust="spacingAndGlyphs" >400</text>
<text class="sa" style="font-size:15.8px" transform="translate(24.2,230.3) rotate(-90)" textLength="21.2" lengthAdjust="spacingAndGlyphs">Dst</text>
<text class="sa" style="font-size:15.8px" transform="translate(24.2,199.3) rotate(-90)" textLength="27.0" lengthAdjust="spacingAndGlyphs">(nT)</text>
<text class="sa" style="font-size:16.8px" transform="translate(30.8,392.0) rotate(-90)" textLength="16.9" lengthAdjust="spacingAndGlyphs">Bz</text>
<text class="sa" style="font-size:16.8px" transform="translate(30.8,367.3) rotate(-90)" textLength="30.4" lengthAdjust="spacingAndGlyphs">(nT)</text>
<text class="sa" style="font-size:16.8px" transform="translate(30.8,487.4) rotate(-90)" textLength="10.8" lengthAdjust="spacingAndGlyphs">V</text>
<text class="sa" style="font-size:16.8px" transform="translate(30.8,470.9) rotate(-90)" textLength="54.6" lengthAdjust="spacingAndGlyphs">(km/s)</text>
<text x="80.0" y="515.3" class="s2" text-anchor="middle" textLength="17.0" lengthAdjust="spacingAndGlyphs" >21</text>
<text x="80.0" y="529.0" class="s2" text-anchor="middle" textLength="19.0" lengthAdjust="spacingAndGlyphs" >00</text>
<text x="152.1" y="515.3" class="s2" text-anchor="middle" textLength="17.0" lengthAdjust="spacingAndGlyphs" >01</text>
<text x="152.1" y="529.0" class="s2" text-anchor="middle" textLength="19.0" lengthAdjust="spacingAndGlyphs" >04</text>
<text x="224.3" y="515.3" class="s2" text-anchor="middle" textLength="19.0" lengthAdjust="spacingAndGlyphs" >05</text>
<text x="224.3" y="529.0" class="s2" text-anchor="middle" textLength="19.0" lengthAdjust="spacingAndGlyphs" >08</text>
<text x="296.4" y="515.3" class="s2" text-anchor="middle" textLength="19.0" lengthAdjust="spacingAndGlyphs" >09</text>
<text x="296.4" y="529.0" class="s2" text-anchor="middle" textLength="17.0" lengthAdjust="spacingAndGlyphs" >12</text>
<text x="368.6" y="515.3" class="s2" text-anchor="middle" textLength="17.0" lengthAdjust="spacingAndGlyphs" >13</text>
<text x="368.6" y="529.0" class="s2" text-anchor="middle" textLength="17.0" lengthAdjust="spacingAndGlyphs" >16</text>
<text x="440.7" y="515.3" class="s2" text-anchor="middle" textLength="17.0" lengthAdjust="spacingAndGlyphs" >17</text>
<text x="440.7" y="529.0" class="s2" text-anchor="middle" textLength="19.0" lengthAdjust="spacingAndGlyphs" >20</text>
<text x="512.9" y="515.3" class="s2" text-anchor="middle" textLength="17.0" lengthAdjust="spacingAndGlyphs" >21</text>
<text x="512.9" y="529.0" class="s2" text-anchor="middle" textLength="19.0" lengthAdjust="spacingAndGlyphs" >00</text>
<text x="585.0" y="515.3" class="s2" text-anchor="middle" textLength="17.0" lengthAdjust="spacingAndGlyphs" >01</text>
<text x="585.0" y="529.0" class="s2" text-anchor="middle" textLength="19.0" lengthAdjust="spacingAndGlyphs" >04</text>
<text x="37.4" y="515.3" class="sb" textLength="17.3" lengthAdjust="spacingAndGlyphs" >UT</text>
<text x="37.4" y="529.0" class="sb" textLength="27.8" lengthAdjust="spacingAndGlyphs" >MSK</text>
<text x="601.8" y="515.3" class="s2" textLength="125.0" lengthAdjust="spacingAndGlyphs" >23.11−25.11.2025</text>
<text x="601.8" y="529.0" class="s2" textLength="125.0" lengthAdjust="spacingAndGlyphs" >24.11−25.11.2025</text>
<text x="626.0" y="96.5" class="sl" textLength="26.2" lengthAdjust="spacingAndGlyphs" >Dst,</text>
<text x="658.2" y="96.5" class="cl" textLength="42.4" lengthAdjust="spacingAndGlyphs" >Киото</text>
<text x="625.5" y="124.0" class="cl" textLength="132.0" lengthAdjust="spacingAndGlyphs" >Восстановленный</text>
<text x="626.0" y="141.0" class="sl" textLength="19.0" lengthAdjust="spacingAndGlyphs" >Dst</text>
<text x="625.5" y="168.0" class="cl" textLength="60.2" lengthAdjust="spacingAndGlyphs" >Прогноз</text>
<text x="693.0" y="168.0" class="sl" textLength="19.3" lengthAdjust="spacingAndGlyphs" >Dst</text>
<text x="625.5" y="185.5" class="cl" textLength="17.6" lengthAdjust="spacingAndGlyphs" >на</text>
<text x="649.5" y="185.5" class="cl" textLength="27.0" lengthAdjust="spacingAndGlyphs" >2−4</text>
<text x="683.0" y="185.5" class="cl" textLength="34.2" lengthAdjust="spacingAndGlyphs" >часа</text>
<text x="625.5" y="212.0" class="cl" textLength="60.2" lengthAdjust="spacingAndGlyphs" >Прогноз</text>
<text x="625.5" y="228.0" class="cl" textLength="36.0" lengthAdjust="spacingAndGlyphs" >силы</text>
<text x="669.7" y="228.0" class="cl" textLength="33.7" lengthAdjust="spacingAndGlyphs" >бури</text>
<text x="626.0" y="241.0" class="sl" textLength="27.6" lengthAdjust="spacingAndGlyphs" >(min</text>
<text x="662.0" y="241.0" class="sl" textLength="25.5" lengthAdjust="spacingAndGlyphs" >Dst)</text>
<text x="626.3" y="344.0" class="s" textLength="15.1" lengthAdjust="spacingAndGlyphs"  style="font-size:13.8px">Bz</text>
<text x="649.7" y="344.0" class="s" textLength="22.6" lengthAdjust="spacingAndGlyphs"  style="font-size:13.8px">(nT,</text>
<text x="681.0" y="344.0" class="s" textLength="31.9" lengthAdjust="spacingAndGlyphs"  style="font-size:13.8px">GSM)</text>
<text x="625.8" y="425.0" class="s" textLength="9.5" lengthAdjust="spacingAndGlyphs"  style="font-size:13.8px">V</text>
<text x="641.5" y="425.0" class="s" textLength="45.9" lengthAdjust="spacingAndGlyphs"  style="font-size:13.8px">(km/s)</text>
<text x="78.0" y="552.0" class="c2" textLength="86.3" lengthAdjust="spacingAndGlyphs" >Магнитное</text>
<text x="172.5" y="552.0" class="c2" textLength="37.9" lengthAdjust="spacingAndGlyphs" >поле</text>
<text x="219.2" y="552.0" class="c2" textLength="10.3" lengthAdjust="spacingAndGlyphs" >и</text>
<text x="238.3" y="552.0" class="c2" textLength="85.4" lengthAdjust="spacingAndGlyphs" >солнечный</text>
<text x="332.8" y="552.0" class="c2" textLength="46.1" lengthAdjust="spacingAndGlyphs" >ветер</text>
<text x="389.9" y="552.0" class="c2" textLength="72.8" lengthAdjust="spacingAndGlyphs" >измерены</text>
<text x="473.0" y="552.0" class="c2" textLength="84.1" lengthAdjust="spacingAndGlyphs" >спутником</text>
<text x="565.4" y="552.0" class="s2" textLength="55.2" lengthAdjust="spacingAndGlyphs" >DSCOVR</text>
<text x="78.0" y="570.0" class="c2" textLength="10.0" lengthAdjust="spacingAndGlyphs" >и</text>
<text x="96.9" y="570.0" class="c2" textLength="77.3" lengthAdjust="spacingAndGlyphs" >сдвинуты</text>
<text x="181.4" y="570.0" class="c2" textLength="64.5" lengthAdjust="spacingAndGlyphs" >вперед,</text>
<text x="253.8" y="570.0" class="c2" textLength="72.1" lengthAdjust="spacingAndGlyphs" >учитывая</text>
<text x="336.9" y="570.0" class="c2" textLength="141.3" lengthAdjust="spacingAndGlyphs" >распространение</text>
<text x="485.3" y="570.0" class="s2" textLength="14.5" lengthAdjust="spacingAndGlyphs" >L1</text>
<text x="502.8" y="570.0" class="s2" textLength="10.6" lengthAdjust="spacingAndGlyphs" >−</text>
<text x="516.8" y="570.0" class="c2" textLength="46.8" lengthAdjust="spacingAndGlyphs" >Земля</text>
<text x="77.6" y="612.3" class="iki" textLength="25.3" lengthAdjust="spacingAndGlyphs" >И</text>
<text x="93.4" y="612.3" class="iki" textLength="23.5" lengthAdjust="spacingAndGlyphs" >К</text>
<text x="116.0" y="612.3" class="iki" textLength="27.2" lengthAdjust="spacingAndGlyphs" >И</text>
<rect x="103.2" y="586" width="13" height="13.5" fill="#fff"/>
<circle cx="109.6" cy="593.3" r="5.4" fill="#1c1c1c"/>
<line x1="107.2" y1="596.6" x2="112.6" y2="590.4" stroke="#bdbdbd" stroke-width="1.3"/>
<text x="157.9" y="595.7" class="c" textLength="78.9" lengthAdjust="spacingAndGlyphs"  style="font-size:15.2px">Институт</text>
<text x="247.3" y="595.7" class="c" textLength="114.0" lengthAdjust="spacingAndGlyphs"  style="font-size:15.2px">космических</text>
<text x="371.4" y="595.7" class="c" textLength="124.6" lengthAdjust="spacingAndGlyphs"  style="font-size:15.2px">исследований</text>
<text x="503.7" y="595.7" class="c" textLength="33.6" lengthAdjust="spacingAndGlyphs"  style="font-size:15.2px">РАН</text>
<text x="157.6" y="614.3" class="s" textLength="103.0" lengthAdjust="spacingAndGlyphs"  style="font-size:15.6px">iki.cosmos.ru</text>
<text x="602.7" y="579.0" class="cl" textLength="77.7" lengthAdjust="spacingAndGlyphs" >Обновлено</text>
<text x="687.3" y="579.0" class="cl" textLength="13.2" lengthAdjust="spacingAndGlyphs" >в:</text>
<text x="602.2" y="597.0" class="s2" textLength="17.5" lengthAdjust="spacingAndGlyphs" >UT</text>
<text x="634.3" y="597.0" class="s2" textLength="124.5" lengthAdjust="spacingAndGlyphs" >21:05, 24.11.2025</text>
<text x="602.2" y="614.7" class="s2" textLength="27.3" lengthAdjust="spacingAndGlyphs" >MSK</text>
<text x="633.8" y="614.7" class="s2" textLength="125.0" lengthAdjust="spacingAndGlyphs" >00:05, 25.11.2025</text>
</svg></body></html>
